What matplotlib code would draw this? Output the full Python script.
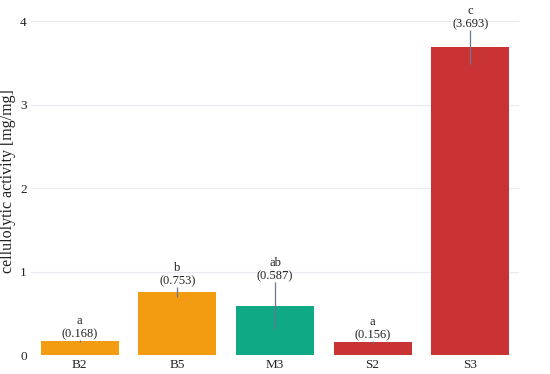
import matplotlib

matplotlib.use("Agg")
import matplotlib.pyplot as plt

strains = ["B2", "B5", "M3", "S2", "S3"]
activity = [0.168, 0.753, 0.587, 0.156, 3.693]
errors = [0.01, 0.06, 0.29, 0.01, 0.20]
groups = ["a", "b", "ab", "a", "c"]
colors = ["#F39C12", "#F39C12", "#10A985", "#C93333", "#C93333"]

plt.rcParams["font.family"] = ["Liberation Serif", "DejaVu Serif"]

fig = plt.figure(figsize=(5.5, 3.74), dpi=100)
ax = fig.add_axes([31 / 550, 1 - 355 / 374, 488 / 550, 347 / 374])

x = range(len(strains))
ax.bar(x, activity, width=0.8, color=colors, zorder=2)
ax.errorbar(x, activity, yerr=errors, fmt="none", ecolor="#6a7790",
            elinewidth=0.9, capsize=0, zorder=3)

for xi, v, e, g in zip(x, activity, errors, groups):
    ax.text(xi, v + e, f"{g}\n({v:.3f})", ha="center", va="bottom",
            fontsize=9, linespacing=1.1, color="#222222", zorder=4)

ax.set_xlim(-0.5, 4.5)
ax.set_ylim(0, 4.16)
ax.set_yticks([0, 1, 2, 3, 4])
ax.set_xticks(list(x))
ax.set_xticklabels(strains)
ax.tick_params(length=0, labelsize=9.5, colors="#222222", pad=3)
ax.set_ylabel("cellulolytic activity [mg/mg]", fontsize=11.5, color="#222222", labelpad=3)
ax.grid(axis="y", color="#e8ecf0", lw=0.8, zorder=0)
ax.set_axisbelow(True)
for s in ax.spines.values():
    s.set_visible(False)

fig.savefig("out.png", dpi=100)
